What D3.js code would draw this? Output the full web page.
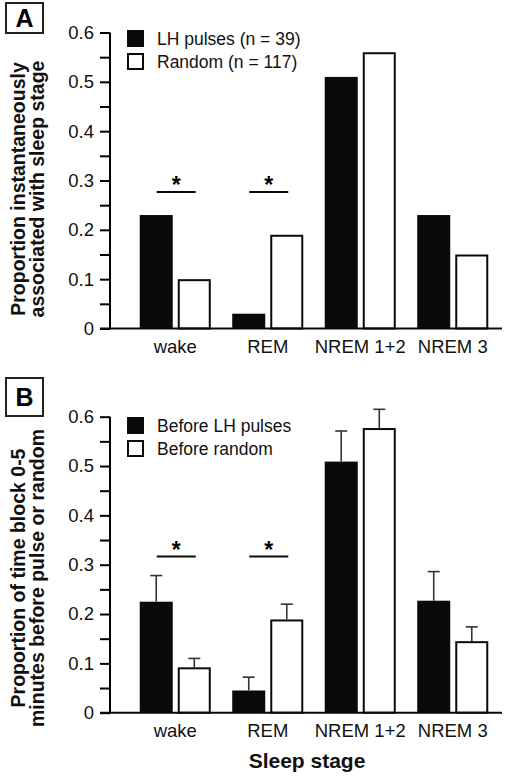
<!DOCTYPE html>
<html>
<head>
<meta charset="utf-8">
<script src="https://cdn.jsdelivr.net/npm/d3@7"></script>
<style>
  html, body { margin: 0; padding: 0; background: #fff; }
  svg { display: block; font-family: Arial, "Liberation Sans", Helvetica, sans-serif; }
</style>
</head>
<body>
<svg id="chart" width="512" height="777"></svg>
<script>
// ---------- data ----------
const categories = ["wake", "REM", "NREM 1+2", "NREM 3"];
const yTicks = [0, 0.1, 0.2, 0.3, 0.4, 0.5, 0.6];
const yMinorTicks = [0.05, 0.15, 0.25, 0.35, 0.45, 0.55];

// Panel A: proportion instantaneously associated with sleep stage
const instLH = [0.23, 0.03, 0.51, 0.23];
const instRandom = [0.10, 0.19, 0.56, 0.15];
const legendA = ["LH pulses (n = 39)", "Random (n = 117)"];

// Panel B: proportion of time block 0-5 min before pulse or random (mean + SEM)
const beforeLH = [0.225, 0.045, 0.509, 0.227];
const beforeLHErr = [0.053, 0.027, 0.062, 0.059];
const beforeRandom = [0.092, 0.189, 0.577, 0.145];
const beforeRandomErr = [0.018, 0.031, 0.038, 0.029];
const legendB = ["Before LH pulses", "Before random"];

const significant = ["wake", "REM"];

// ---------- drawing ----------
const svg = d3.select("#chart");

function panel(cfg) {
  const g = svg.append("g");
  const y = d3.scaleLinear().domain([0, 0.6]).range([cfg.base, cfg.base - 296]);
  const x = d3.scaleBand().domain(categories).range([129, 499])
    .paddingInner(0.232).paddingOuter(0.116);
  const xs = d3.scaleBand().domain([0, 1]).range([0, x.bandwidth()]).paddingInner(0.132);

  // y axis
  const axis = d3.axisLeft(y).tickValues(yTicks).tickSize(10).tickPadding(6)
    .tickFormat(d => d === 0 ? "0" : d3.format(".1f")(d));
  const ag = g.append("g").attr("transform", "translate(110,0)").call(axis);
  ag.select(".domain").attr("stroke-width", 2).attr("d", `M0,${y(0)}V${y(0.6)}`);
  ag.selectAll(".tick line").attr("stroke-width", 2);
  ag.selectAll(".tick text").attr("font-size", 18.5).attr("fill", "#111")
    .attr("font-family", "Arial, 'Liberation Sans', sans-serif");
  const minor = d3.axisLeft(y).tickValues(yMinorTicks).tickSize(10).tickFormat("");
  const mg = g.append("g").attr("transform", "translate(110,0)").call(minor);
  mg.select(".domain").remove();
  mg.selectAll(".tick line").attr("stroke-width", 2);

  // bars
  const series = [cfg.s1, cfg.s2];
  series.forEach((vals, si) => {
    g.selectAll(null).data(categories).enter().append("rect")
      .attr("x", d => x(d) + xs(si) + (si === 1 ? 1 : 0))
      .attr("y", (d, i) => y(vals[i]) + (si === 1 ? 1 : 0))
      .attr("width", xs.bandwidth() - (si === 1 ? 2 : 0))
      .attr("height", (d, i) => y(0) - y(vals[i]) - (si === 1 ? 1 : 0))
      .attr("fill", si === 0 ? "#0a0a0a" : "#fff")
      .attr("stroke", si === 0 ? "none" : "#0a0a0a")
      .attr("stroke-width", 2);
  });

  // error bars
  if (cfg.e1) {
    [[cfg.s1, cfg.e1, 0], [cfg.s2, cfg.e2, 1]].forEach(([vals, errs, si]) => {
      categories.forEach((c, i) => {
        const cx = x(c) + xs(si) + xs.bandwidth() / 2;
        const top = y(vals[i] + errs[i]);
        g.append("line").attr("x1", cx).attr("x2", cx)
          .attr("y1", y(vals[i])).attr("y2", top)
          .attr("stroke", "#333").attr("stroke-width", 1.6);
        g.append("line").attr("x1", cx - 6).attr("x2", cx + 6)
          .attr("y1", top).attr("y2", top)
          .attr("stroke", "#333").attr("stroke-width", 1.6);
      });
    });
  }

  // baseline
  g.append("line").attr("x1", 100).attr("x2", 502)
    .attr("y1", y(0)).attr("y2", y(0)).attr("stroke", "#0a0a0a").attr("stroke-width", 2);

  // category labels
  g.selectAll(null).data(categories).enter().append("text")
    .attr("x", d => x(d) + x.bandwidth() / 2)
    .attr("y", y(0) + 24)
    .attr("text-anchor", "middle").attr("font-size", 18.5).attr("fill", "#111")
    .text(d => d);

  // significance markers
  significant.forEach(c => {
    const cx = x(c) + x.bandwidth() / 2 + 1;
    g.append("line").attr("x1", cx - 19.5).attr("x2", cx + 19.5)
      .attr("y1", cfg.sigY).attr("y2", cfg.sigY)
      .attr("stroke", "#0a0a0a").attr("stroke-width", 2);
    g.append("text").attr("x", cx).attr("y", cfg.sigY + 1)
      .attr("text-anchor", "middle").attr("font-size", 23).attr("font-weight", "bold")
      .text("*");
  });

  // legend
  cfg.legend.forEach((t, i) => {
    const ly = cfg.legY + i * 23;
    g.append("rect").attr("x", i === 0 ? 127 : 128).attr("y", ly + (i === 0 ? 0 : 1))
      .attr("width", i === 0 ? 17 : 15).attr("height", i === 0 ? 17 : 15)
      .attr("fill", i === 0 ? "#0a0a0a" : "#fff")
      .attr("stroke", i === 0 ? "none" : "#0a0a0a").attr("stroke-width", 2);
    g.append("text").attr("x", 157).attr("y", ly + 15)
      .attr("font-size", 17.5).attr("fill", "#111").text(t);
  });

  // panel label box
  g.append("rect").attr("x", 6).attr("y", cfg.boxY).attr("width", 37).attr("height", cfg.boxH)
    .attr("fill", "none").attr("stroke", "#222").attr("stroke-width", 2);
  g.append("text").attr("x", 24.5).attr("y", cfg.boxY + cfg.boxH / 2 + 9)
    .attr("text-anchor", "middle").attr("font-size", 25).attr("font-weight", "bold")
    .text(cfg.label);

  // y title (two lines, rotated)
  cfg.title.forEach((t, i) => {
    g.append("text")
      .attr("transform", `translate(${25 + i * 19},${cfg.titleY}) rotate(-90)`)
      .attr("text-anchor", "middle").attr("font-size", 19.5).attr("font-weight", "bold")
      .attr("fill", "#111").text(t);
  });
}

panel({
  base: 328.5, s1: instLH, s2: instRandom, legend: legendA, legY: 30,
  sigY: 192, label: "A", boxY: 3, boxH: 30, titleY: 189,
  title: ["Proportion instantaneously", "associated with sleep stage"]
});
panel({
  base: 712.7, s1: beforeLH, s2: beforeRandom, e1: beforeLHErr, e2: beforeRandomErr,
  legend: legendB, legY: 417, sigY: 556.5, label: "B", boxY: 378, boxH: 38, titleY: 578,
  title: ["Proportion of time block 0-5", "minutes before pulse or random"]
});

svg.append("text").attr("x", 307).attr("y", 768)
  .attr("text-anchor", "middle").attr("font-size", 21).attr("font-weight", "bold")
  .attr("fill", "#111").text("Sleep stage");
</script>
</body>
</html>
